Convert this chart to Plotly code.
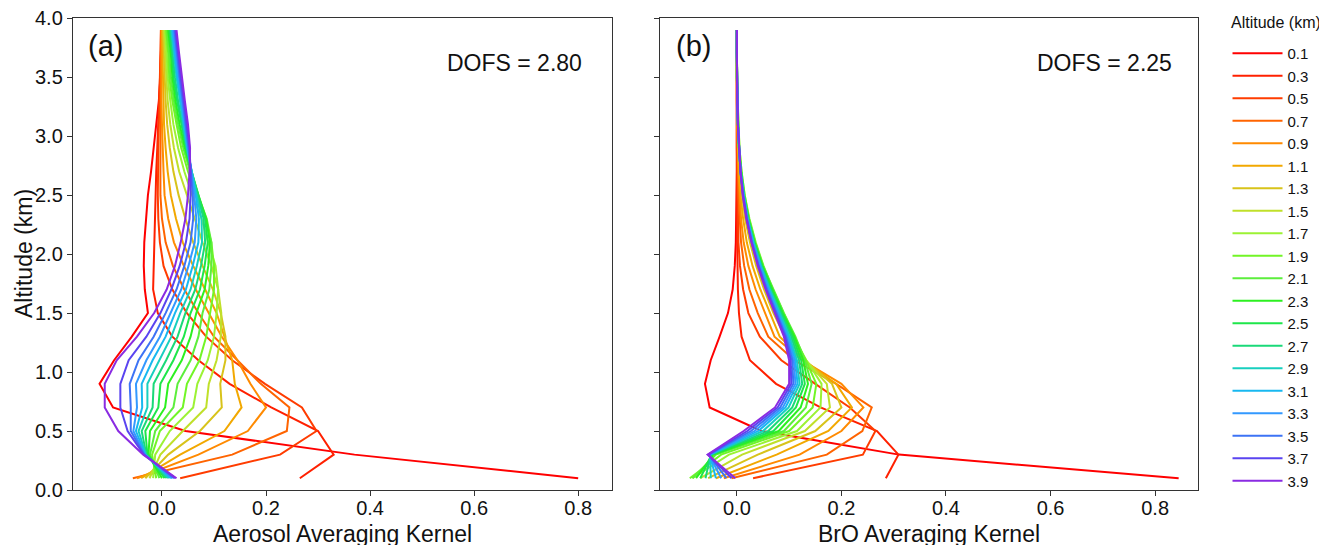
import plotly.graph_objects as go
from plotly.subplots import make_subplots

# altitude grid of the retrieval (km) and legend labels
altitude = [0.1, 0.3, 0.5, 0.7, 0.9, 1.1, 1.3, 1.5, 1.7, 1.9,
            2.1, 2.3, 2.5, 2.7, 2.9, 3.1, 3.3, 3.5, 3.7, 3.9]
labels = ['%.1f' % a for a in altitude]

# aerosol averaging kernel rows, one per altitude layer
aerosol_ak = [
    [0.80, 0.37, 0.045, -0.094, -0.12, -0.092, -0.058, -0.027, -0.033, -0.035, -0.034, -0.031, -0.027, -0.021, -0.016, -0.01, -0.006, -0.003, -0.002, -0.001],
    [0.265, 0.33, 0.30, 0.21, 0.13, 0.07, 0.02, -0.008, -0.017, -0.016, -0.014, -0.013, -0.013, -0.011, -0.009, -0.007, -0.005, -0.004, -0.002, -0.001],
    [0.035, 0.227, 0.297, 0.269, 0.198, 0.135, 0.085, 0.048, 0.02, 0.003, -0.004, -0.007, -0.008, -0.008, -0.007, -0.006, -0.005, -0.004, -0.003, -0.002],
    [-0.056, 0.135, 0.24, 0.245, 0.19, 0.145, 0.1, 0.07, 0.043, 0.021, 0.007, 0.0, -0.003, -0.003, -0.003, -0.003, -0.003, -0.003, -0.002, -0.002],
    [-0.048, 0.07, 0.165, 0.2, 0.17, 0.145, 0.115, 0.09, 0.065, 0.042, 0.023, 0.012, 0.005, 0.003, 0.001, 0.0, -0.001, -0.001, -0.001, -0.001],
    [-0.04, 0.035, 0.12, 0.153, 0.14, 0.135, 0.12, 0.105, 0.083, 0.06, 0.04, 0.027, 0.017, 0.011, 0.007, 0.004, 0.003, 0.002, 0.001, 0.0],
    [-0.032, 0.012, 0.073, 0.115, 0.112, 0.122, 0.122, 0.113, 0.098, 0.078, 0.06, 0.045, 0.032, 0.022, 0.015, 0.01, 0.007, 0.005, 0.004, 0.002],
    [-0.024, -0.003, 0.04, 0.085, 0.09, 0.105, 0.113, 0.114, 0.108, 0.095, 0.078, 0.063, 0.047, 0.033, 0.023, 0.016, 0.011, 0.008, 0.006, 0.004],
    [-0.017, -0.013, 0.015, 0.06, 0.068, 0.088, 0.1, 0.105, 0.108, 0.103, 0.089, 0.076, 0.058, 0.043, 0.031, 0.022, 0.016, 0.011, 0.009, 0.006],
    [-0.011, -0.019, -0.004, 0.04, 0.048, 0.072, 0.085, 0.092, 0.1, 0.1, 0.095, 0.083, 0.065, 0.05, 0.037, 0.028, 0.02, 0.014, 0.012, 0.008],
    [-0.005, -0.023, -0.013, 0.022, 0.03, 0.055, 0.07, 0.078, 0.091, 0.095, 0.095, 0.086, 0.069, 0.054, 0.041, 0.031, 0.023, 0.017, 0.014, 0.01],
    [0.0, -0.026, -0.023, 0.006, 0.012, 0.038, 0.055, 0.066, 0.082, 0.089, 0.092, 0.085, 0.07, 0.056, 0.044, 0.034, 0.026, 0.02, 0.017, 0.012],
    [0.005, -0.028, -0.032, -0.007, -0.003, 0.022, 0.042, 0.055, 0.073, 0.082, 0.088, 0.083, 0.07, 0.057, 0.046, 0.037, 0.029, 0.022, 0.019, 0.014],
    [0.009, -0.03, -0.039, -0.018, -0.016, 0.008, 0.03, 0.045, 0.064, 0.075, 0.083, 0.08, 0.069, 0.057, 0.047, 0.039, 0.031, 0.025, 0.021, 0.016],
    [0.013, -0.031, -0.045, -0.028, -0.028, -0.005, 0.018, 0.035, 0.055, 0.067, 0.077, 0.076, 0.067, 0.057, 0.048, 0.041, 0.034, 0.028, 0.023, 0.018],
    [0.017, -0.032, -0.05, -0.038, -0.039, -0.018, 0.007, 0.025, 0.046, 0.059, 0.07, 0.071, 0.065, 0.057, 0.049, 0.043, 0.036, 0.03, 0.025, 0.02],
    [0.02, -0.033, -0.055, -0.048, -0.05, -0.03, -0.004, 0.016, 0.037, 0.051, 0.063, 0.066, 0.062, 0.056, 0.05, 0.045, 0.038, 0.032, 0.027, 0.022],
    [0.023, -0.034, -0.06, -0.06, -0.062, -0.045, -0.016, 0.007, 0.028, 0.043, 0.055, 0.06, 0.059, 0.056, 0.051, 0.046, 0.04, 0.034, 0.029, 0.024],
    [0.026, -0.035, -0.066, -0.08, -0.08, -0.064, -0.03, -0.003, 0.018, 0.034, 0.046, 0.053, 0.055, 0.055, 0.053, 0.048, 0.042, 0.036, 0.031, 0.026],
    [0.028, -0.036, -0.084, -0.11, -0.11, -0.087, -0.048, -0.015, 0.009, 0.025, 0.036, 0.045, 0.05, 0.053, 0.054, 0.05, 0.044, 0.038, 0.033, 0.028],
]

# BrO averaging kernel rows
bro_ak = [
    [0.845, 0.31, 0.047, -0.052, -0.061, -0.05, -0.033, -0.017, -0.008, -0.004, -0.002, -0.001, 0.0, 0.0, 0.0, 0.0, 0.0, 0.0, 0.0, 0.0],
    [0.285, 0.309, 0.268, 0.16, 0.075, 0.025, 0.009, 0.004, 0.002, 0.001, 0.0, 0.0, 0.0, 0.0, 0.0, 0.0, 0.0, 0.0, 0.0, 0.0],
    [0.031, 0.241, 0.265, 0.216, 0.15, 0.085, 0.044, 0.022, 0.012, 0.006, 0.003, 0.002, 0.001, 0.0, 0.0, 0.0, 0.0, 0.0, 0.0, 0.0],
    [-0.01, 0.172, 0.24, 0.258, 0.19, 0.11, 0.06, 0.04, 0.024, 0.014, 0.008, 0.005, 0.003, 0.002, 0.001, 0.0, 0.0, 0.0, 0.0, 0.0],
    [-0.025, 0.12, 0.2, 0.242, 0.2, 0.125, 0.072, 0.054, 0.036, 0.022, 0.013, 0.008, 0.005, 0.003, 0.002, 0.001, 0.0, 0.0, 0.0, 0.0],
    [-0.04, 0.076, 0.175, 0.22, 0.19, 0.128, 0.082, 0.063, 0.045, 0.03, 0.019, 0.012, 0.007, 0.004, 0.002, 0.001, 0.0, 0.0, 0.0, 0.0],
    [-0.055, 0.04, 0.15, 0.2, 0.182, 0.13, 0.092, 0.07, 0.052, 0.037, 0.025, 0.016, 0.01, 0.006, 0.003, 0.002, 0.001, 0.0, 0.0, 0.0],
    [-0.07, 0.01, 0.13, 0.178, 0.172, 0.132, 0.1, 0.078, 0.059, 0.043, 0.03, 0.02, 0.013, 0.008, 0.004, 0.002, 0.001, 0.0, 0.0, 0.0],
    [-0.085, -0.015, 0.115, 0.16, 0.162, 0.133, 0.106, 0.084, 0.065, 0.048, 0.034, 0.023, 0.015, 0.009, 0.005, 0.003, 0.001, 0.0, 0.0, 0.0],
    [-0.09, -0.03, 0.1, 0.145, 0.152, 0.132, 0.11, 0.089, 0.069, 0.051, 0.036, 0.024, 0.015, 0.009, 0.005, 0.003, 0.001, 0.0, 0.0, 0.0],
    [-0.085, -0.04, 0.09, 0.132, 0.143, 0.13, 0.112, 0.09, 0.07, 0.05, 0.035, 0.023, 0.014, 0.008, 0.004, 0.002, 0.001, 0.0, 0.0, 0.0],
    [-0.078, -0.045, 0.08, 0.122, 0.136, 0.127, 0.11, 0.088, 0.068, 0.049, 0.034, 0.022, 0.014, 0.008, 0.004, 0.002, 0.001, 0.0, 0.0, 0.0],
    [-0.07, -0.048, 0.07, 0.113, 0.13, 0.123, 0.107, 0.086, 0.066, 0.048, 0.033, 0.022, 0.013, 0.008, 0.004, 0.002, 0.001, 0.0, 0.0, 0.0],
    [-0.06, -0.05, 0.06, 0.106, 0.125, 0.119, 0.104, 0.084, 0.064, 0.047, 0.032, 0.021, 0.013, 0.008, 0.004, 0.002, 0.001, 0.0, 0.0, 0.0],
    [-0.05, -0.051, 0.05, 0.099, 0.12, 0.115, 0.101, 0.082, 0.063, 0.046, 0.032, 0.021, 0.013, 0.007, 0.004, 0.002, 0.001, 0.0, 0.0, 0.0],
    [-0.04, -0.052, 0.041, 0.093, 0.116, 0.112, 0.098, 0.08, 0.061, 0.045, 0.031, 0.02, 0.013, 0.007, 0.004, 0.002, 0.001, 0.0, 0.0, 0.0],
    [-0.03, -0.053, 0.034, 0.088, 0.112, 0.109, 0.096, 0.078, 0.06, 0.044, 0.03, 0.02, 0.012, 0.007, 0.004, 0.002, 0.001, 0.0, 0.0, 0.0],
    [-0.02, -0.054, 0.027, 0.083, 0.108, 0.106, 0.094, 0.076, 0.058, 0.042, 0.029, 0.019, 0.012, 0.007, 0.004, 0.002, 0.001, 0.0, 0.0, 0.0],
    [-0.01, -0.055, 0.02, 0.078, 0.104, 0.103, 0.092, 0.074, 0.056, 0.041, 0.028, 0.019, 0.012, 0.007, 0.004, 0.002, 0.001, 0.0, 0.0, 0.0],
    [-0.003, -0.056, 0.013, 0.073, 0.1, 0.1, 0.09, 0.072, 0.055, 0.04, 0.028, 0.018, 0.011, 0.007, 0.004, 0.002, 0.001, 0.0, 0.0, 0.0],
]

dofs = ['2.80', '2.25']

colors = ['#ff0000', '#ff2000', '#ff3c00', '#ff6400', '#ff8a00', '#f2a800', '#d8c31a', '#c0e02a',
          '#9cf234', '#72f526', '#5cee3c', '#2cf020', '#1ee64a', '#1ad978', '#18cfbf', '#18b8f0',
          '#3399ff', '#3d73f5', '#5a44f0', '#8a2be2']

FONT = 'Liberation Sans, Arial, sans-serif'
W, H = 1327, 545
OFF = 8  # the page body adds 8px around the figure


def px(x):
    return (x - OFF) / W


def py(y):
    return 1 - (y - OFF) / H


fig = make_subplots(rows=1, cols=2, shared_yaxes=True)

for i in range(len(altitude)):
    fig.add_trace(go.Scatter(x=aerosol_ak[i], y=altitude, mode='lines', name=labels[i],
                             legendgroup=labels[i], line=dict(color=colors[i], width=2)),
                  row=1, col=1)
    fig.add_trace(go.Scatter(x=bro_ak[i], y=altitude, mode='lines', name=labels[i],
                             legendgroup=labels[i], showlegend=False,
                             line=dict(color=colors[i], width=2)),
                  row=1, col=2)

axis_style = dict(showline=True, linecolor='#333', linewidth=1.4, mirror=True,
                  ticks='outside', ticklen=5, tickcolor='#333', showgrid=False,
                  zeroline=False, automargin=False, ticklabeloverflow='allow',
                  tickfont=dict(size=20, color='#111', family=FONT))

fig.update_xaxes(**axis_style, tickvals=[0, 0.2, 0.4, 0.6, 0.8], tickformat='.1f',
                 ticklabelstandoff=-5)
fig.update_xaxes(domain=[px(73), px(612)], range=[-0.171, 0.865], row=1, col=1)
fig.update_xaxes(domain=[px(660), px(1198)], range=[-0.147, 0.882], row=1, col=2)

fig.update_yaxes(**axis_style, range=[0, 4.002], tickvals=[0, 0.5, 1, 1.5, 2, 2.5, 3, 3.5, 4],
                 tickformat='.1f', domain=[py(490), py(18)])
fig.update_yaxes(showticklabels=False, row=1, col=2)

title_font = dict(size=23, color='#111', family=FONT)
fig.add_annotation(x=px(24), y=py(254), xref='paper', yref='paper', text='Altitude (km)',
                   textangle=-90, showarrow=False, xanchor='center', yanchor='middle',
                   font=title_font)
fig.add_annotation(x=px(342), y=py(534), xref='paper', yref='paper',
                   text='Aerosol Averaging Kernel', showarrow=False,
                   xanchor='center', yanchor='middle', font=title_font)
fig.add_annotation(x=px(929), y=py(534), xref='paper', yref='paper',
                   text='BrO Averaging Kernel', showarrow=False,
                   xanchor='center', yanchor='middle', font=title_font)

# panel letters and DOFS
for letter, dof, lx, dx in [('(a)', dofs[0], 86, 584), ('(b)', dofs[1], 674, 1174)]:
    fig.add_annotation(x=px(lx), y=py(46), xref='paper', yref='paper', text=letter,
                       showarrow=False, xanchor='left', yanchor='middle',
                       font=dict(size=29, color='#111', family=FONT))
    fig.add_annotation(x=px(dx), y=py(63), xref='paper', yref='paper', text='DOFS = ' + dof,
                       showarrow=False, xanchor='right', yanchor='middle',
                       font=dict(size=23, color='#111', family=FONT))

# legend title
fig.add_annotation(x=px(1229), y=py(22), xref='paper', yref='paper', text='Altitude (km)',
                   showarrow=False, xanchor='left', yanchor='middle',
                   font=dict(size=16, color='#111', family=FONT))

fig.update_layout(
    width=W, height=H,
    margin=dict(l=0, r=0, t=0, b=0),
    paper_bgcolor='white', plot_bgcolor='white',
    font=dict(family=FONT, color='#111'),
    legend=dict(x=0.919, y=py(37), xanchor='left', yanchor='top', itemwidth=50,
                font=dict(size=15, family=FONT), tracegroupgap=0,
                bgcolor='rgba(0,0,0,0)'),
)

fig.write_html('out.html')
